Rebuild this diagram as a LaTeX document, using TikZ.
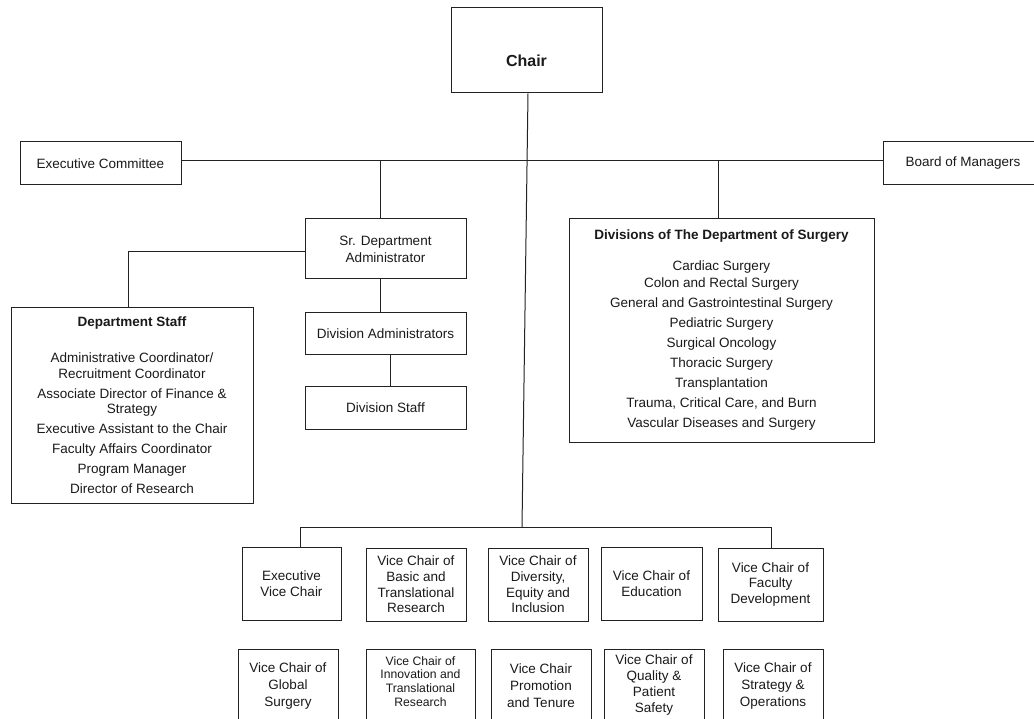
\documentclass[tikz,border=0pt]{standalone}
\usepackage{fontspec}
\setmainfont{Liberation Sans}
\definecolor{txt}{HTML}{1A1A1A}
\definecolor{ln}{HTML}{222222}
\begin{document}
\begin{tikzpicture}[x=1pt,y=-1pt,
  box/.style={draw=ln, line width=1pt, inner sep=0pt, align=center, text=txt,
    font=\fontsize{13.5}{15.7}\selectfont},
  lbl/.style={inner sep=0pt, align=center, text=txt, font=\fontsize{13.5}{16.5}\selectfont},
  conn/.style={draw=ln, line width=1pt}]
\useasboundingbox (0,0) rectangle (1034,719);
\clip (0,0) rectangle (1034,719);
\fill[white] (0,0) rectangle (1034,719);

% top
\node[box, minimum width=151pt, minimum height=85pt] (chair) at (526.5,50.5) {};
\node[lbl, font=\fontsize{16}{18}\selectfont\bfseries] (chairtxt) at (526.5,61) {Chair};
\node[box, minimum width=161pt, minimum height=43pt] (exec) at (100.5,163.5) {Executive Committee};
\node[box, minimum width=160pt, minimum height=43pt] (board) at (963,163.5) {Board of Managers};

% middle left
\node[box, minimum width=161pt, minimum height=60pt, font=\fontsize{13.5}{16.8}\selectfont] (sr) at (385.5,249) {Sr. Department\\Administrator};
\node[box, minimum width=161pt, minimum height=42pt] (divadm) at (385.5,334) {Division Administrators};
\node[box, minimum width=161pt, minimum height=42pt] (divstaff) at (385.5,408) {Division Staff};
\node[box, minimum width=242pt, minimum height=195pt, font=\fontsize{13.5}{20}\selectfont] (dstaff) at (132,405.5)
  {{\bfseries Department Staff}\\[16pt]
   Administrative Coordinator/\\[-4pt]
   Recruitment Coordinator\\
   Associate Director of Finance \&\\[-5pt]
   Strategy\\
   Executive Assistant to the Chair\\
   Faculty Affairs Coordinator\\
   Program Manager\\
   Director of Research};

% divisions
\node[box, minimum width=305pt, minimum height=223pt, font=\fontsize{13.5}{20}\selectfont] (divs) at (721.5,330.5)
  {{\bfseries Divisions of The Department of Surgery}\\[11pt]
   Cardiac Surgery\\[-3pt]
   Colon and Rectal Surgery\\
   General and Gastrointestinal Surgery\\
   Pediatric Surgery\\
   Surgical Oncology\\
   Thoracic Surgery\\
   Transplantation\\
   Trauma, Critical Care, and Burn\\
   Vascular Diseases and Surgery};

% vice chairs row 1
\node[box, minimum width=99pt, minimum height=73pt] (evc) at (291.5,583.5) {Executive\\Vice Chair};
\node[box, minimum width=100pt, minimum height=73pt] (basic) at (416,584.5) {Vice Chair of\\Basic and\\Translational\\Research};
\node[box, minimum width=100pt, minimum height=73pt] (dei) at (538,584.5) {Vice Chair of\\Diversity,\\Equity and\\Inclusion};
\node[box, minimum width=101pt, minimum height=73pt] (edu) at (651.5,583.5) {Vice Chair of\\Education};
\node[box, minimum width=105pt, minimum height=73pt] (fac) at (770.5,584.5) {Vice Chair of\\Faculty\\Development};

% vice chairs row 2 (cut by the lower edge)
\node[box, minimum width=100pt, minimum height=76pt] (glob) at (288,687) {};
\node[lbl, font=\fontsize{13.5}{17}\selectfont] (globtxt) at (288,686) {Vice Chair of\\Global\\Surgery};
\node[box, minimum width=109pt, minimum height=76pt] (innov) at (420.5,687) {};
\node[lbl, font=\fontsize{12.2}{13.9}\selectfont] (innovtxt) at (420.5,681.5) {Vice Chair of\\Innovation and\\Translational\\Research};
\node[box, minimum width=100pt, minimum height=76pt] (promo) at (541,687) {};
\node[lbl, font=\fontsize{13.5}{17}\selectfont] (promotxt) at (541,686) {Vice Chair\\Promotion\\and Tenure};
\node[box, minimum width=100pt, minimum height=76pt] (qual) at (654,687) {};
\node[lbl, font=\fontsize{13.5}{16}\selectfont] (qualtxt) at (654,685) {Vice Chair of\\Quality \&\\Patient\\Safety};
\node[box, minimum width=100pt, minimum height=76pt] (strat) at (773,687) {};
\node[lbl, font=\fontsize{13.5}{17}\selectfont] (strattxt) at (773,686) {Vice Chair of\\Strategy \&\\Operations};

% connectors
\coordinate (hb) at (528,161);
\coordinate (srdrop) at (380,161);
\coordinate (divsdrop) at (718,161);
\coordinate (dsL) at (128,252);
\coordinate (admx) at (380,279);
\coordinate (stfx) at (390,355);
\coordinate (busL) at (300,527);
\coordinate (busC) at (522,527);
\coordinate (busR) at (771,527);

\draw[conn] (exec.east |- hb) -- (board.west |- hb);
\draw[conn] ([xshift=1.5pt]chair.south) -- (busC);
\draw[conn] (srdrop) -- (srdrop |- sr.north);
\draw[conn] (divsdrop) -- (divsdrop |- divs.north);
\draw[conn] (sr.west |- dsL) -- (dsL) -- (dsL |- dstaff.north);
\draw[conn] (admx |- sr.south) -- (admx |- divadm.north);
\draw[conn] (stfx |- divadm.south) -- (stfx |- divstaff.north);
\draw[conn] (busL |- evc.north) -- (busL) -- (busR) -- (busR |- fac.north);
\end{tikzpicture}
\end{document}
